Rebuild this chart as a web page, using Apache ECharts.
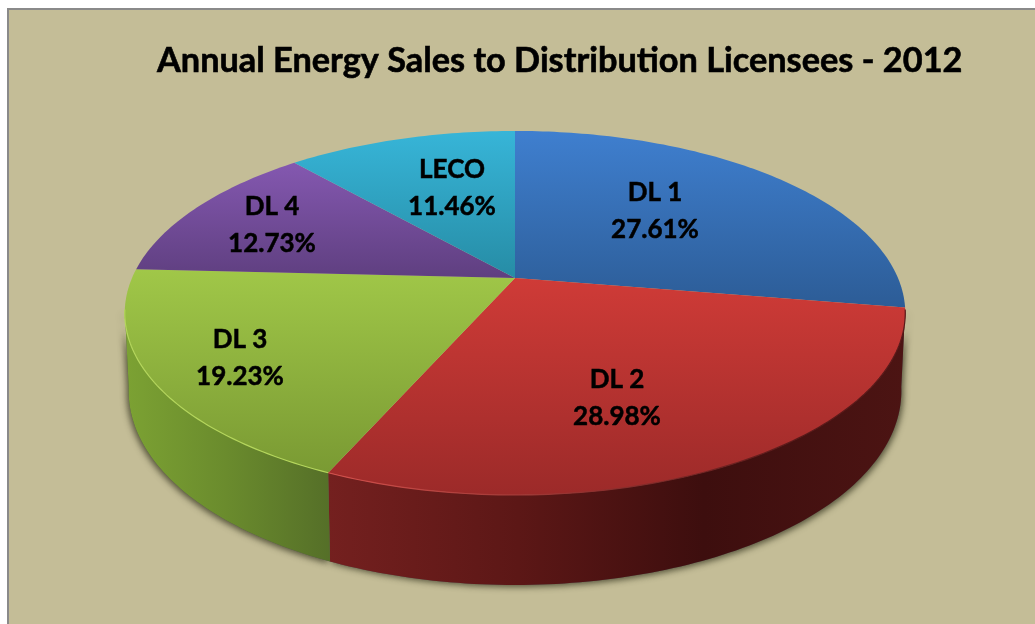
<!DOCTYPE html>
<html>
<head>
<meta charset="utf-8">
<style>
  html, body { margin: 0; background: #fff; }
  #main { width: 1035px; height: 624px; }
</style>
<script src="https://cdn.jsdelivr.net/npm/echarts@6/dist/echarts.min.js"></script>
</head>
<body>
<div id="main"></div>
<script>
const titleText = 'Annual Energy Sales to Distribution Licensees - 2012';
const categories = ['DL 1', 'DL 2', 'DL 3', 'DL 4', 'LECO'];
const shares = [27.61, 28.98, 19.23, 12.73, 11.46];

// label centres, placed by hand in the original too
const labelSpots = [[655, 211], [617, 398], [240, 358], [272, 225], [452, 188]];

const topColors = [
  ['#3f7fcf', '#2c5c96', 131, 308],
  ['#cf3b37', '#9c2a29', 278, 495],
  ['#a0c748', '#7a9a33', 270, 472],
  ['#8458b0', '#5f3f80', 163, 278],
  ['#37b5d8', '#268ca5', 131, 278]
];
const sideStops = [
  [[0, '#2c5c96'], [1, '#2c5c96']],
  [[0, '#74201f'], [0.33, '#5c1716'], [0.65, '#3d0e0e'], [1, '#4c1413']],
  [[0, '#7ca233'], [0.5, '#6a8b2d'], [1, '#556f28']]
];
const rimColors = ['#2c5c96', '#d4504c', '#b4d65c'];

// the disc is a circle seen in perspective, the centre is not the middle of the ellipse
const CX = 515, CY = 278, RX = 383, RY = 175.3, K = 0.192;

function rimTop(deg) {
  const a = deg * Math.PI / 180;
  const u = Math.sin(a), v = Math.cos(a), d = 1 + K * v;
  return [CX + RX * u / d, CY - RY * v / d];
}

function rimBottom(deg) {
  const p = rimTop(deg);
  const v = Math.cos(deg * Math.PI / 180);
  return [CX + (p[0] - CX) * 0.99, p[1] + 75 - 15 * v];
}

function arc(fn, from, to) {
  const pts = [];
  for (let d = from; d < to; d += 1) pts.push(fn(d));
  pts.push(fn(to));
  return pts;
}

function gradient(x, y, x2, y2, stops) {
  return {
    type: 'linear', x: x, y: y, x2: x2, y2: y2, global: true,
    colorStops: stops.map(s => ({ offset: s[0], color: s[1] }))
  };
}

const total = shares.reduce((a, b) => a + b, 0);

function renderSlice(params, api) {
  const i = params.dataIndex;
  let before = 0;
  for (let n = 0; n < i; n++) before += shares[n];
  const start = before / total * 360;
  const end = start + api.value(0) / total * 360;
  const children = [];

  // wall only between the two widest points of the rim
  const from = Math.max(start, 100), to = Math.min(end, 260);
  if (from < to) {
    const wall = arc(rimTop, from, to).concat(arc(rimBottom, from, to).reverse());
    const xs = wall.map(p => p[0]);
    children.push({
      type: 'polygon', z2: 0,
      shape: { points: wall },
      style: { fill: '#555', shadowColor: 'rgba(40,40,20,0.7)', shadowBlur: 6, shadowOffsetX: i === 2 ? -2 : 2, shadowOffsetY: 2 }
    });
    children.push({
      type: 'polygon', z2: 1,
      shape: { points: wall },
      style: { fill: gradient(Math.min.apply(null, xs), 0, Math.max.apply(null, xs), 0, sideStops[i]) }
    });
  }

  children.push({
    type: 'polygon', z2: 2,
    shape: { points: [[CX, CY]].concat(arc(rimTop, start, end)) },
    style: { fill: gradient(0, topColors[i][2], 0, topColors[i][3], [[0, topColors[i][0]], [1, topColors[i][1]]]) }
  });

  if (from < to) {
    children.push({
      type: 'polyline', z2: 3,
      shape: { points: arc(rimTop, from, to) },
      style: {
        fill: null, lineWidth: 1.2,
        stroke: i === 1 ? gradient(330, 0, 800, 0, [[0, rimColors[1]], [1, '#5a1818']]) : rimColors[i]
      }
    });
  }

  children.push({
    type: 'text', z2: 4,
    x: labelSpots[i][0], y: labelSpots[i][1],
    style: {
      text: categories[i] + '\n' + shares[i].toFixed(2) + '%',
      fill: '#000', stroke: '#000', lineWidth: 0.5,
      font: 'bold 26px Lato', lineHeight: 37,
      align: 'center', verticalAlign: 'middle'
    }
  });
  return { type: 'group', children: children };
}

const chart = echarts.init(document.getElementById('main'));
chart.setOption({
  animation: false,
  backgroundColor: '#ffffff',
  title: {
    text: titleText,
    left: 152, top: 39,
    textStyle: {
      fontFamily: 'Lato', fontWeight: 'bold', fontSize: 34.3, color: '#000',
      textBorderColor: '#000', textBorderWidth: 0.6
    }
  },
  graphic: [{
    type: 'rect', z: -10, silent: true,
    shape: { x: 8, y: 9, width: 1100, height: 700 },
    style: { fill: '#c4bd97', stroke: '#8a8a8a', lineWidth: 2 }
  }],
  series: [{
    type: 'custom',
    coordinateSystem: 'none',
    renderItem: renderSlice,
    data: shares.map((v, i) => ({ name: categories[i], value: [v] }))
  }]
});
</script>
</body>
</html>
